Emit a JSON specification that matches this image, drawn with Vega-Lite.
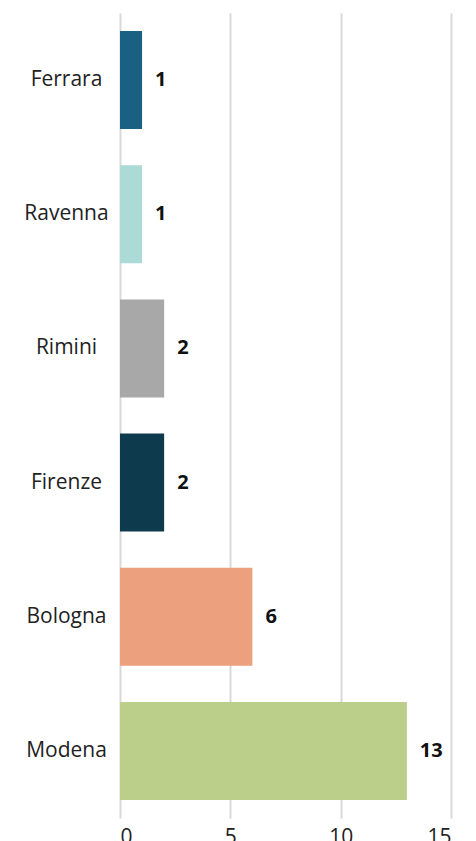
{
  "$schema": "https://vega.github.io/schema/vega-lite/v6.json",
  "width": 331,
  "height": 805,
  "autosize": {"type": "none"},
  "padding": {"left": 120, "top": 13, "right": 25, "bottom": 23},
  "background": "white",
  "config": {"view": {"stroke": null}, "font": "Open Sans"},
  "data": {"values": [
    {"city": "Ferrara", "value": 1, "color": "#1a6083"},
    {"city": "Ravenna", "value": 1, "color": "#acdad6"},
    {"city": "Rimini", "value": 2, "color": "#a8a8a8"},
    {"city": "Firenze", "value": 2, "color": "#0e3a4e"},
    {"city": "Bologna", "value": 6, "color": "#eca07e"},
    {"city": "Modena", "value": 13, "color": "#bccf8a"}
  ]},
  "encoding": {
    "y": {"field": "city", "type": "nominal", "sort": null,
      "scale": {"paddingInner": 0.27},
      "axis": {"title": null, "domain": false, "ticks": false, "tickSize": 0,
        "labelAlign": "center", "labelPadding": 54, "labelFontSize": 21,
        "labelColor": "#222222", "labelFont": "Open Sans"}},
    "x": {"field": "value", "type": "quantitative",
      "scale": {"domain": [0, 15], "nice": false},
      "axis": {"title": null, "values": [0, 5, 10, 15], "domain": false, "ticks": false, "tickSize": 0,
        "labelPadding": 8, "labelFontSize": 21, "labelColor": "#222222",
        "gridColor": "#d9d9d9", "gridWidth": 2, "labelBaseline": "top"}}
  },
  "layer": [
    {"mark": {"type": "bar"}, "encoding": {"color": {"field": "color", "type": "nominal", "scale": null}}},
    {"mark": {"type": "text", "align": "left", "dx": 13, "fontSize": 20, "fontWeight": "bold", "color": "#111111"},
     "encoding": {"text": {"field": "value", "type": "quantitative"}}}
  ]
}
